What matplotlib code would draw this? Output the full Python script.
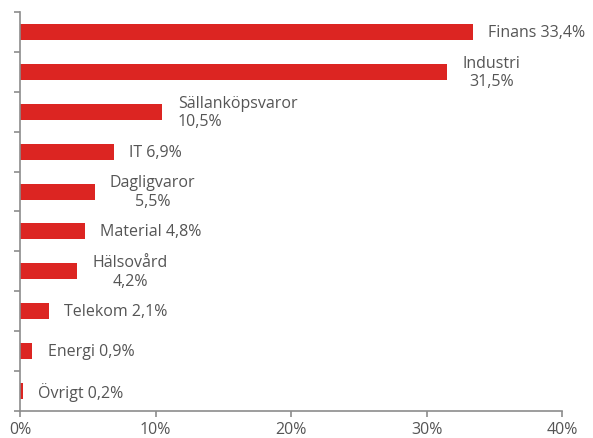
import matplotlib.pyplot as plt
import numpy as np

# sektorfördelning
sectors = ['Finans', 'Industri', 'Sällanköpsvaror', 'IT', 'Dagligvaror',
           'Material', 'Hälsovård', 'Telekom', 'Energi', 'Övrigt']
values = [33.4, 31.5, 10.5, 6.9, 5.5, 4.8, 4.2, 2.1, 0.9, 0.2]
two_line = ['Industri', 'Sällanköpsvaror', 'Dagligvaror', 'Hälsovård']
xticks = [0, 10, 20, 30, 40]

plt.rcParams['font.family'] = ['Open Sans', 'DejaVu Sans']
txt_col = '#555555'
ax_col = '#8c8c8c'

fig = plt.figure(figsize=(5.93, 4.39), dpi=100)
ax = fig.add_axes([0.034, 0.0615, 0.914, 0.909])

y = np.arange(len(sectors))
ax.barh(y, values, height=0.4, color='#DC2522')

for yi, name, v in zip(y, sectors, values):
    val = f'{v:.1f}'.replace('.', ',') + '%'
    if name in two_line:
        label = name + '\n' + val
    else:
        label = name + ' ' + val
    ma = 'left' if name == 'Sällanköpsvaror' else 'center'
    ax.annotate(label, xy=(v, yi), xytext=(11, 0), textcoords='offset points',
                ha='left', va='center', multialignment=ma,
                fontsize=11.5, color=txt_col, linespacing=1.2)

ax.set_xlim(0, 40)
ax.set_ylim(len(sectors) - 0.5, -0.5)
ax.set_xticks(xticks)
ax.set_xticklabels([f'{t}%' for t in xticks])
ax.set_yticks(np.arange(-0.5, len(sectors), 1.0))
ax.set_yticklabels([])

for s in ['top', 'right']:
    ax.spines[s].set_visible(False)
for s in ['left', 'bottom']:
    ax.spines[s].set_color(ax_col)
    ax.spines[s].set_linewidth(1.2)
ax.tick_params(axis='both', colors=ax_col, length=4, width=1.2)
ax.tick_params(axis='x', labelcolor=txt_col, labelsize=11.5, pad=3)

fig.savefig('out.png', dpi=100)
